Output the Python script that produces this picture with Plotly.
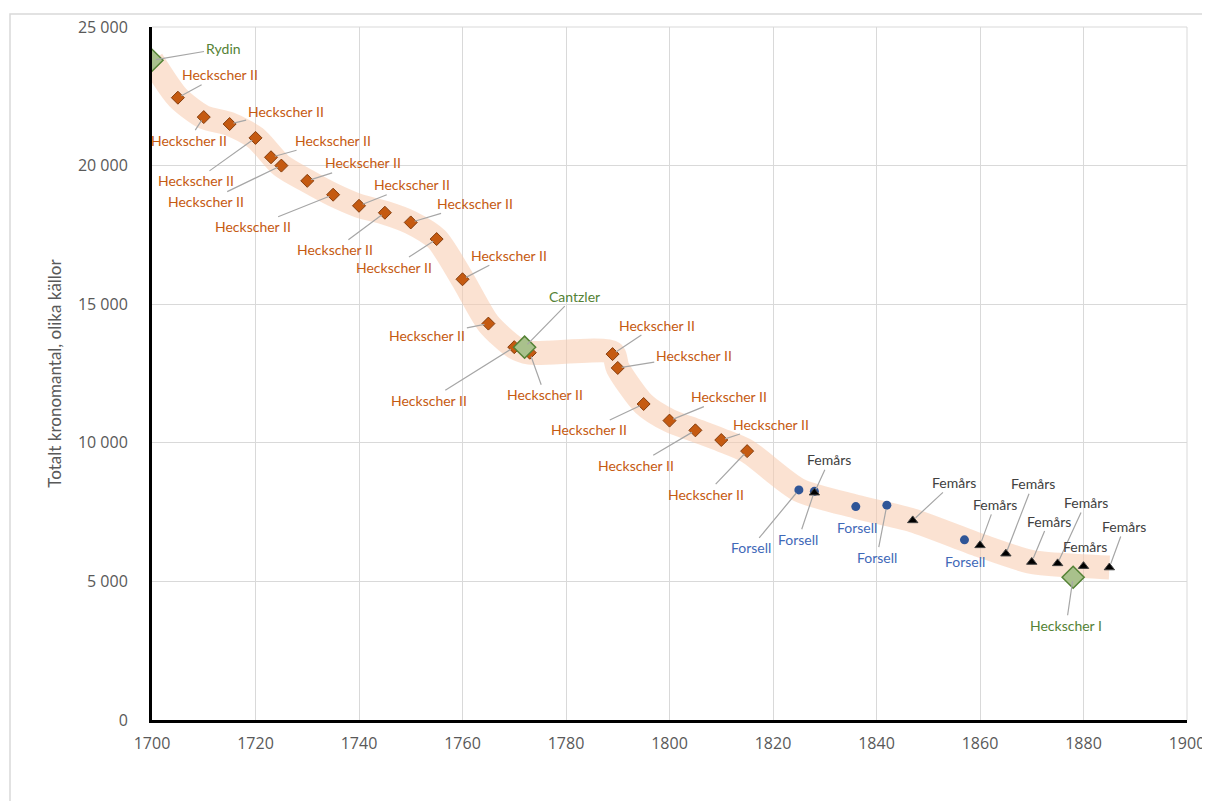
import plotly.graph_objects as go

# ---------------- data ----------------
hii_years = [1705, 1710, 1715, 1720, 1723, 1725, 1730, 1735, 1740, 1745, 1750, 1755,
             1760, 1765, 1770, 1773, 1789, 1790, 1795, 1800, 1805, 1810, 1815]
hii_vals = [22450, 21750, 21500, 21000, 20300, 20000, 19450, 18950, 18550, 18300, 17950, 17350,
            15900, 14300, 13450, 13250, 13200, 12700, 11400, 10800, 10450, 10100, 9700]

green_years = [1700, 1772, 1878]
green_vals = [23800, 13450, 5150]
green_labels = ["Rydin", "Cantzler", "Heckscher I"]

forsell_years = [1825, 1828, 1836, 1842, 1857]
forsell_vals = [8300, 8250, 7700, 7750, 6500]

femars_years = [1828, 1847, 1860, 1865, 1870, 1875, 1880, 1885]
femars_vals = [8200, 7200, 6300, 6000, 5700, 5650, 5550, 5500]

trend_years = [1700, 1705, 1710, 1715, 1720, 1725, 1730, 1735, 1740, 1745, 1750, 1755,
               1760, 1765, 1770, 1773, 1789, 1790, 1795, 1800, 1805, 1810, 1815,
               1825, 1836, 1847, 1860, 1870, 1880, 1885]
trend_vals = [23800, 22450, 21750, 21500, 21000, 20000, 19450, 18950, 18550, 18300, 17950, 17350,
              15900, 14300, 13450, 13250, 13250, 12700, 11400, 10800, 10450, 10100, 9700,
              8300, 7700, 7200, 6300, 5700, 5550, 5500]

x_ticks = [1700, 1720, 1740, 1760, 1780, 1800, 1820, 1840, 1860, 1880, 1900]
y_ticks = [0, 5000, 10000, 15000, 20000, 25000]
y_ticktext = ["0", "5 000", "10 000", "15 000", "20 000", "25 000"]

y_title = "Totalt kronomantal, olika källor"

# label offsets (pixels: dx, dy) and whether a leader line is drawn
hii_offsets = [(42, -23), (-15, 23), (56, -13), (-60, 43), (62, -17), (-75, 36), (56, -18),
               (-80, 32), (53, -21), (-50, 37), (64, -19), (-43, 28), (46, -24), (-61, 12),
               (-85, 53), (15, 42), (44, -29), (76, -12), (-55, 26), (59, -24), (-59, 35),
               (50, -16), (-41, 43)]
green_offsets = [(71, -12), (50, -51), (-7, 48)]
forsell_offsets = [(-48, 58), (-16, 48), (1, 21), (-10, 52), (1, 22)]
forsell_lines = [True, True, False, True, False]
femars_offsets = [(15, -33), (41, -38), (15, -41), (27, -70), (17, -41), (28, -61), (1, -20), (15, -41)]
femars_lines = [True, True, True, True, True, True, False, True]

C_HII = "#C55A11"
C_HII_EDGE = "#843C0C"
C_GREEN_FILL = "#A9C18C"
C_GREEN = "#548235"
C_BLUE = "#2F5597"
C_BLUE_TXT = "#3F69B8"
C_BLACK = "#000000"
C_LEADER = "#A6A6A6"
LABEL_FONT = "Lato"
TICK_FONT = dict(family="Open Sans", size=16, color="#595959")

# plot area geometry (figure pixels)
L, T, PW, PH = 144, 19, 1035, 693
W, H = 1210, 801

fig = go.Figure()

fig.add_trace(go.Scatter(
    x=trend_years, y=trend_vals, mode="lines",
    line=dict(color="rgba(248,203,173,0.55)", width=24, shape="spline", smoothing=0.7),
    hoverinfo="skip", showlegend=False))

fig.add_trace(go.Scatter(
    x=hii_years, y=hii_vals, mode="markers", name="Heckscher II",
    marker=dict(symbol="diamond", size=10, color=C_HII, line=dict(color=C_HII_EDGE, width=1)),
    showlegend=False))

fig.add_trace(go.Scatter(
    x=forsell_years, y=forsell_vals, mode="markers", name="Forsell",
    marker=dict(symbol="circle", size=9, color=C_BLUE),
    showlegend=False))

fig.add_trace(go.Scatter(
    x=femars_years, y=femars_vals, mode="markers", name="Femårs",
    marker=dict(symbol="triangle-up", size=9, color=C_BLACK, line=dict(color="#404040", width=1)),
    showlegend=False))

fig.add_trace(go.Scatter(
    x=green_years, y=green_vals, mode="markers", name="Övriga",
    marker=dict(symbol="diamond", size=17, color=C_GREEN_FILL, line=dict(color=C_GREEN, width=1.5)),
    showlegend=False))


def add_labels(xs, ys, texts, offsets, color, lines=None):
    for i, (x, y) in enumerate(zip(xs, ys)):
        dx, dy = offsets[i]
        draw = True if lines is None else lines[i]
        fig.add_annotation(
            x=x, y=y, text=texts[i] if isinstance(texts, list) else texts,
            showarrow=True, ax=dx, ay=dy, arrowhead=0, arrowwidth=1.2,
            arrowcolor=C_LEADER if draw else "rgba(0,0,0,0)", standoff=4,
            font=dict(family=LABEL_FONT, size=14, color=color))


add_labels(hii_years, hii_vals, "Heckscher II", hii_offsets, C_HII)
add_labels(green_years, green_vals, green_labels, green_offsets, C_GREEN)
add_labels(forsell_years, forsell_vals, "Forsell", forsell_offsets, C_BLUE_TXT, forsell_lines)
add_labels(femars_years, femars_vals, "Femårs", femars_offsets, "#404040", femars_lines)

# outer chart border (top and left visible)
fig.add_shape(type="rect", xref="paper", yref="paper",
              x0=(2 - L) / PW, x1=(W + 40 - L) / PW,
              y0=-(H + 40 - T - PH) / PH, y1=(T + PH - 6) / PH,
              line=dict(color="#D9D9D9", width=1.5), layer="below")

fig.update_layout(
    width=W, height=H,
    margin=dict(l=L, r=W - L - PW, t=T, b=H - T - PH, autoexpand=False),
    paper_bgcolor="white", plot_bgcolor="white",
    showlegend=False,
    xaxis=dict(range=[1700, 1900], tickvals=x_ticks, showgrid=True, gridcolor="#D9D9D9", gridwidth=1,
               zeroline=False, showline=True, linecolor="black", linewidth=3,
               ticks="", ticklabelstandoff=7, tickfont=TICK_FONT, automargin=False),
    yaxis=dict(range=[0, 25000], tickvals=y_ticks, ticktext=y_ticktext, showgrid=True,
               gridcolor="#D9D9D9", gridwidth=1, zeroline=False, showline=True,
               linecolor="black", linewidth=3, ticks="", ticklabelstandoff=18,
               tickfont=TICK_FONT, automargin=False,
               title=dict(text=y_title, font=dict(family=LABEL_FONT, size=17, color="#595959"),
                          standoff=12)),
)

# top and right plot-area border (gridline look)
fig.add_shape(type="line", xref="paper", yref="paper", x0=0, x1=1, y0=1, y1=1,
              line=dict(color="#D9D9D9", width=1), layer="below")
fig.add_shape(type="line", xref="paper", yref="paper", x0=1, x1=1, y0=0, y1=1,
              line=dict(color="#D9D9D9", width=1), layer="below")

fig.write_html("out.html")
